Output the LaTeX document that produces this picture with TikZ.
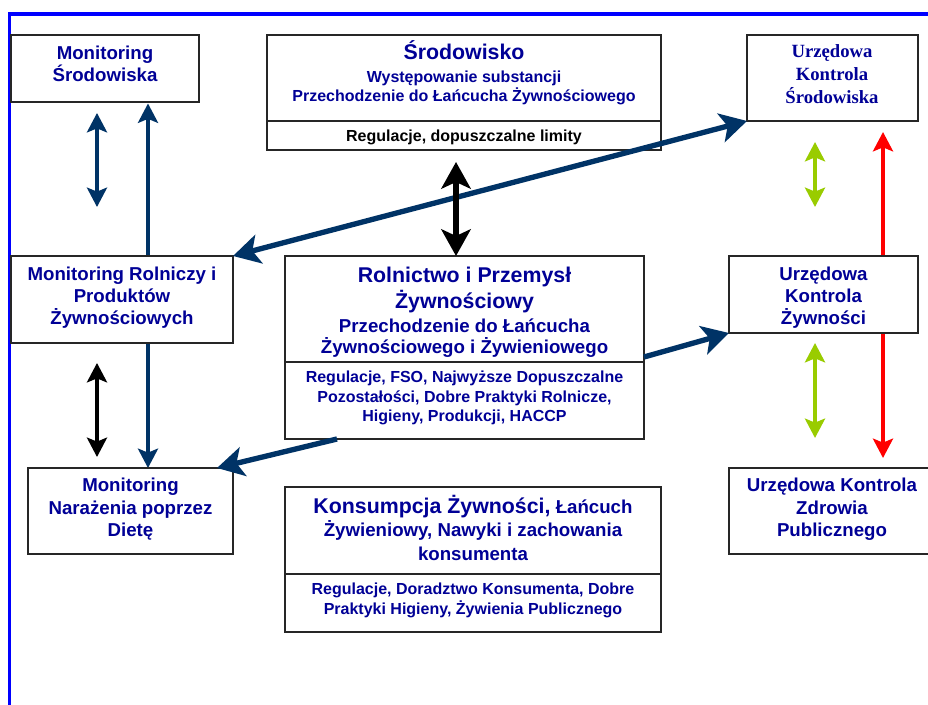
\documentclass[tikz,border=0pt]{standalone}
\usepackage{fontspec}
\setmainfont{Liberation Sans}
\newfontfamily\serifbf{Liberation Serif}
\usetikzlibrary{arrows.meta,calc,fit}
\definecolor{txtblue}{RGB}{0,0,150}
\definecolor{arrblue}{RGB}{0,51,102}
\definecolor{lgreen}{RGB}{153,204,0}
\definecolor{frameblue}{RGB}{0,0,255}
\pgfdeclarelayer{bg}
\pgfsetlayers{bg,main}
\tikzset{
  hd/.tip={Stealth[length=14.5pt,width=15pt,inset=3pt]},
  HD/.tip={Stealth[length=20pt,width=22pt,inset=5pt]},
  box/.style={draw=black!85, line width=0.8pt, fill=white, inner sep=0pt, outer sep=0pt},
  sepline/.style={draw=black!85, line width=0.8pt},
  tbase/.style={anchor=base, inner sep=0pt, text=txtblue},
  t14/.style={tbase, font=\fontsize{14}{16}\selectfont\bfseries},
  t16/.style={tbase, font=\fontsize{16}{19}\selectfont\bfseries},
  t12/.style={tbase, font=\fontsize{12}{14}\selectfont\bfseries},
  t12k/.style={t12, text=black},
  tser/.style={tbase, font=\serifbf\fontsize{14}{16}\selectfont\bfseries},
  thinarrow/.style={line width=3pt, draw=arrblue},
  thickarrow/.style={line width=4pt, draw=arrblue},
}
\begin{document}
\begin{tikzpicture}[x=0.75pt,y=-0.75pt]
\useasboundingbox (0,0) rectangle (928,705);
\clip (0,0) rectangle (928,705);
% frame
\draw[frameblue, line width=2.4pt] (9.5,705) -- (9.5,14) -- (930,14);

% boxes
\node[box, fit={(11,35) (199,102)}] (ms) {};
\node[box, fit={(267,35) (661,150)}] (sr) {};
\node[box, fit={(747,35) (918,121)}] (uks) {};
\node[box, fit={(11,256) (233,343)}] (mr) {};
\node[box, fit={(28,468) (233,554)}] (mn) {};
\node[box, fit={(285,256) (644,439)}] (rol) {};
\node[box, fit={(729,256) (918,333)}] (ukz) {};
\node[box, fit={(729,468) (936,554)}] (ukzp) {};
\node[box, fit={(285,487) (661,632)}] (kon) {};

\draw[sepline] (sr.west |- 0,121) -- (sr.east |- 0,121);
\draw[sepline] (rol.west |- 0,362) -- (rol.east |- 0,362);
\draw[sepline] (kon.west |- 0,574) -- (kon.east |- 0,574);

% texts
\node[t14] (ms1) at (105,60) {Monitoring};
\node[t14] (ms2) at (105,82) {Środowiska};

\node[t16] (sr1) at (464,60) {Środowisko};
\node[t12] (sr2) at (464,83) {Występowanie substancji};
\node[t12] (sr3) at (464,102) {Przechodzenie do Łańcucha Żywnościowego};
\node[t12k] (sr4) at (464,142) {Regulacje, dopuszczalne limity};

\node[tser] (uks1) at (832,58) {Urzędowa};
\node[tser] (uks2) at (832,81) {Kontrola};
\node[tser] (uks3) at (832,104) {Środowiska};

\node[t14] (mr1) at (122,281) {Monitoring Rolniczy i};
\node[t14] (mr2) at (122,303) {Produktów};
\node[t14] (mr3) at (122,325) {Żywnościowych};

\node[t14] (mn1) at (130.5,492) {Monitoring};
\node[t14] (mn2) at (130.5,514) {Narażenia poprzez};
\node[t14] (mn3) at (130.5,537) {Dietę};

\node[t16] (rol1) at (464.5,283) {Rolnictwo i Przemysł};
\node[t16] (rol2) at (464.5,309) {Żywnościowy};
\node[t14] (rol3) at (464.5,333) {Przechodzenie do Łańcucha};
\node[t14] (rol4) at (464.5,354) {Żywnościowego i Żywieniowego};
\node[t12] (rol5) at (464.5,383) {Regulacje, FSO, Najwyższe Dopuszczalne};
\node[t12] (rol6) at (464.5,403) {Pozostałości, Dobre Praktyki Rolnicze,};
\node[t12] (rol7) at (464.5,422) {Higieny, Produkcji, HACCP};

\node[t14] (ukz1) at (823.5,281) {Urzędowa};
\node[t14] (ukz2) at (823.5,303) {Kontrola};
\node[t14] (ukz3) at (823.5,325) {Żywności};

\node[t14] (ukzp1) at (832,492) {Urzędowa Kontrola};
\node[t14] (ukzp2) at (832,514) {Zdrowia};
\node[t14] (ukzp3) at (832,537) {Publicznego};

\node[t14] (kon1) at (473,513) {{\fontsize{16}{19}\selectfont Konsumpcja Żywności,} Łańcuch};
\node[t14] (kon2) at (473,537) {Żywieniowy, Nawyki i zachowania};
\node[t14] (kon3) at (473,561) {konsumenta};
\node[t12] (kon4) at (473,594) {Regulacje, Doradztwo Konsumenta, Dobre};
\node[t12] (kon5) at (473,614) {Praktyki Higieny, Żywienia Publicznego};

% arrows behind boxes
\begin{pgfonlayer}{bg}
\fill[white] (0,0) rectangle (928,705);
\draw[thinarrow, hd-hd] ($(ms.south west)+(137,1.5)$) -- ($(mn.north west)+(120,0)$);
\draw[line width=3pt, red, hd-hd] ($(uks.south west)+(136,11)$) -- ($(ukzp.north west)+(154,-10)$);
\end{pgfonlayer}

% arrows
\draw[thinarrow, hd-hd] ($(ms.south west)+(86,11)$) -- ($(mr.north west)+(86,-49)$);
\draw[line width=3.5pt, black, hd-hd] ($(mr.south west)+(86,20)$) -- ($(mn.north west)+(69,-11)$);
\draw[thickarrow, HD-HD] (mr.north east) -- (uks.south west);
\draw[line width=4.5pt, black, HD-HD] ($(sr.south)+(-8,12)$) -- ($(rol.north)+(-8.5,0)$);
\draw[thickarrow, -HD] ($(rol.east)+(0,9.5)$) -- (ukz.south west);
\draw[thickarrow, -HD] ($(rol.south west)+(52,0)$) -- ($(mn.north east)+(-16,0)$);
\draw[line width=3pt, lgreen, hd-hd] ($(uks.south west)+(68,21)$) -- ($(ukz.north west)+(86,-49)$);
\draw[line width=3pt, lgreen, hd-hd] ($(ukz.south west)+(86,10)$) -- ($(ukzp.north west)+(86,-30)$);
\end{tikzpicture}
\end{document}
